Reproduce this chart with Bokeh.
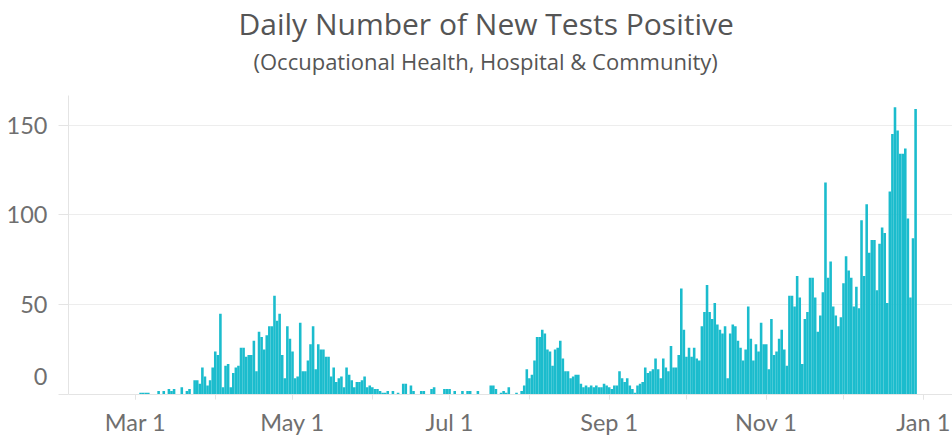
import datetime as dt

from bokeh.plotting import figure
from bokeh.models import (ColumnDataSource, FixedTicker, DatetimeTickFormatter,
                          LinearAxis, Range1d, Title)
from bokeh.embed import file_html
from bokeh.resources import INLINE

# ---------------- data ----------------
TITLE = "Daily Number of New Tests Positive"
SUBTITLE = "(Occupational Health, Hospital & Community)"

first_day = "2020-03-01"
# daily new positive tests, one list per month (Mar 1 2020 .. Dec 29 2020)
mar = [0, 0, 1, 1, 1, 1, 0, 0, 0, 2, 0, 2, 0, 3, 2, 3, 0, 0, 4, 0, 2, 3, 0, 8, 8, 6, 15, 10, 5, 8, 15]
apr = [24, 22, 45, 4, 16, 17, 4, 12, 15, 16, 26, 26, 21, 22, 22, 30, 13, 35, 32, 25, 33, 38, 38, 55, 41, 45, 22, 9, 38, 31]
may = [24, 9, 10, 40, 13, 13, 19, 28, 38, 14, 28, 25, 25, 21, 21, 10, 15, 7, 9, 10, 4, 15, 11, 8, 4, 7, 7, 8, 10, 4, 5]
jun = [4, 3, 3, 2, 1, 1, 2, 0, 2, 0, 1, 0, 6, 6, 0, 5, 2, 0, 0, 2, 2, 0, 0, 3, 4, 0, 0, 0, 3, 3]
jul = [3, 0, 2, 0, 0, 2, 0, 2, 2, 0, 0, 2, 0, 0, 0, 0, 5, 5, 3, 0, 1, 2, 1, 4, 0, 0, 1, 0, 2, 5, 14]
aug = [9, 11, 19, 32, 32, 36, 34, 25, 24, 16, 25, 26, 30, 20, 13, 13, 9, 10, 11, 11, 6, 4, 5, 4, 5, 4, 5, 4, 4, 6, 5]
sep = [4, 3, 5, 5, 13, 9, 7, 9, 5, 3, 1, 5, 6, 7, 15, 12, 13, 14, 20, 14, 9, 20, 15, 13, 27, 15, 15, 22, 59, 36]
octo = [21, 26, 21, 26, 20, 19, 38, 46, 61, 46, 42, 51, 39, 36, 34, 38, 9, 34, 39, 38, 30, 26, 19, 25, 49, 31, 19, 28, 24, 40, 28]
nov = [28, 14, 42, 22, 24, 31, 36, 25, 16, 55, 55, 49, 66, 54, 17, 42, 46, 65, 65, 54, 35, 44, 57, 118, 65, 74, 49, 44, 38, 43]
dec = [62, 77, 69, 65, 49, 60, 48, 97, 66, 106, 79, 86, 86, 58, 84, 93, 90, 51, 113, 145, 160, 147, 134, 134, 137, 98, 54, 87, 159]

y_ticks = [0, 50, 100, 150]
y_labels = {10: "0", 50: "50", 100: "100", 150: "150"}   # "0" is drawn raised, as in the original
x_label_dates = ["2020-03-01", "2020-05-01", "2020-07-01", "2020-09-01", "2020-11-01", "2021-01-01"]
x_month_dates = ["2020-02-01", "2020-03-01", "2020-04-01", "2020-05-01", "2020-06-01", "2020-07-01",
                 "2020-08-01", "2020-09-01", "2020-10-01", "2020-11-01", "2020-12-01", "2021-01-01"]
x_window = ("2020-02-04", "2021-01-12 08:00")
y_window = (0, 166.5)

# ---------------- build ----------------
EPOCH = dt.datetime(1970, 1, 1)


def to_dt(s):
    return dt.datetime.fromisoformat(s)


def ms(s):
    return (to_dt(s) - EPOCH).total_seconds() * 1000.0


counts = mar + apr + may + jun + jul + aug + sep + octo + nov + dec
start = to_dt(first_day)
dates = [start + dt.timedelta(days=i) for i in range(len(counts))]
src = ColumnDataSource(data=dict(date=dates, count=counts))

BAR = "#1bbccd"
GRID = "#ededed"
AXIS = "#e4e4e4"
TICKTXT = "#6f6f6f"
TITLETXT = "#555555"
TFONT = "Open Sans"
LFONT = "Lato"

p = figure(width=952, height=438, x_axis_type="datetime", title=None,
           output_backend="svg", toolbar_location=None,
           x_range=Range1d(ms(x_window[0]), ms(x_window[1])),
           y_range=Range1d(*y_window),
           min_border_left=68, min_border_right=0, min_border_top=93, min_border_bottom=40)
p.outline_line_color = None
p.background_fill_color = "white"
p.border_fill_color = "white"

p.vbar(x="date", top="count", width=86400000, source=src,
       fill_color=BAR, line_color=None)

# x axis
p.xgrid.visible = False
p.xaxis.ticker = FixedTicker(ticks=[ms(d) for d in x_label_dates],
                             minor_ticks=[ms(d) for d in x_month_dates])
fmt = "%b %-d"
p.xaxis.formatter = DatetimeTickFormatter(milliseconds=fmt, seconds=fmt, minsec=fmt, minutes=fmt,
                                          hourmin=fmt, hours=fmt, days=fmt, months=fmt, years=fmt)
p.xaxis.axis_line_color = AXIS
p.xaxis.major_tick_line_color = AXIS
p.xaxis.minor_tick_line_color = AXIS
p.xaxis.major_tick_in = 0
p.xaxis.major_tick_out = 5
p.xaxis.minor_tick_in = 0
p.xaxis.minor_tick_out = 5
p.xaxis.major_label_standoff = 8
p.xaxis.major_label_text_font = LFONT
p.xaxis.major_label_text_font_size = "23.5px"
p.xaxis.major_label_text_color = TICKTXT

# y axis: tick marks (next to the frame) ...
p.yaxis.ticker = FixedTicker(ticks=y_ticks, minor_ticks=[])
p.yaxis.axis_line_color = AXIS
p.yaxis.major_tick_line_color = AXIS
p.yaxis.major_tick_in = 0
p.yaxis.major_tick_out = 10
p.yaxis.minor_tick_line_color = None
p.yaxis.major_label_standoff = 0
p.yaxis.major_label_overrides = {t: "" for t in y_ticks}
# ... and the tick labels, on their own axis further out
ylab = LinearAxis(ticker=FixedTicker(ticks=list(y_labels.keys()), minor_ticks=[]),
                  major_label_overrides=y_labels,
                  axis_line_color=None, major_tick_line_color=None, minor_tick_line_color=None,
                  major_label_standoff=5, major_label_text_font=LFONT,
                  major_label_text_font_size="23.5px", major_label_text_color=TICKTXT)
p.add_layout(ylab, "left")

p.ygrid.grid_line_color = GRID
p.ygrid.ticker = FixedTicker(ticks=y_ticks[1:])

# titles: an empty spacer next to the plot, then the subtitle, then the title
p.add_layout(Title(text=" ", text_font=TFONT, text_font_size="12px", standoff=1), "above")
p.add_layout(Title(text=SUBTITLE, align="left", offset=185, text_font=TFONT,
                   text_font_size="22px", text_font_style="normal",
                   text_color=TITLETXT, standoff=0), "above")
p.add_layout(Title(text=TITLE, align="left", offset=170, text_font=TFONT,
                   text_font_size="30px", text_font_style="normal",
                   text_color=TITLETXT, standoff=0), "above")

open("out.html", "w").write(file_html(p, INLINE))
